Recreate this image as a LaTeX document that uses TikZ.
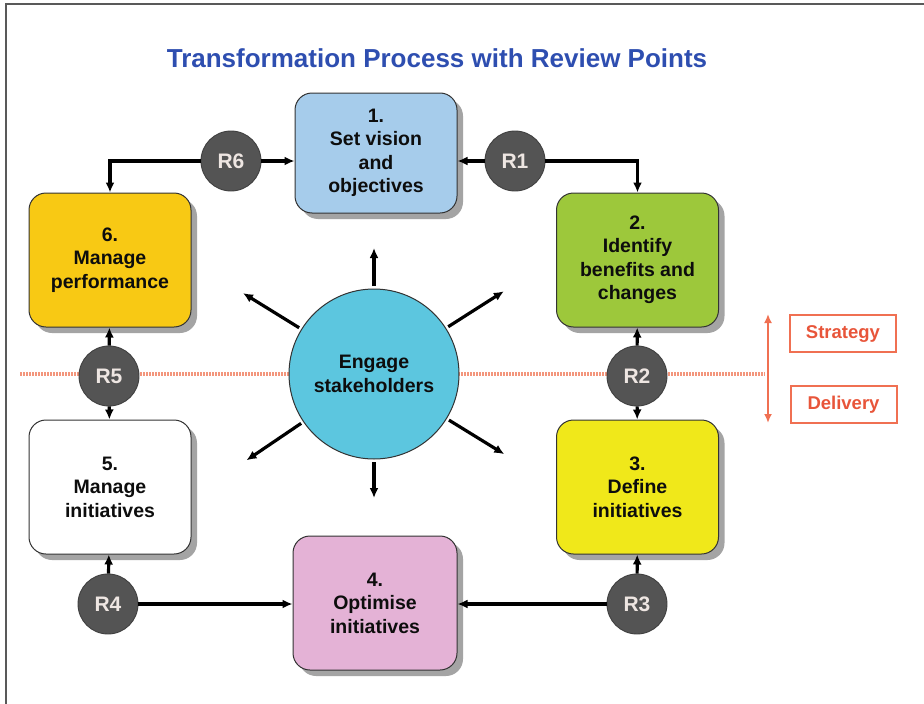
\documentclass[tikz,border=0pt]{standalone}
\usepackage{fontspec}
\setmainfont{Liberation Sans}
\usetikzlibrary{shadows,arrows.meta,calc}

\definecolor{titleblue}{RGB}{46,78,176}
\definecolor{visionblue}{RGB}{166,204,235}
\definecolor{benefitgreen}{RGB}{157,200,59}
\definecolor{defineyellow}{RGB}{240,232,26}
\definecolor{optimisepink}{RGB}{228,178,214}
\definecolor{performgold}{RGB}{248,201,20}
\definecolor{hubblue}{RGB}{92,198,223}
\definecolor{reviewgrey}{RGB}{84,84,84}
\definecolor{reviewtext}{RGB}{238,230,226}
\definecolor{linered}{RGB}{240,112,82}
\definecolor{textred}{RGB}{232,85,58}
\definecolor{dotred}{RGB}{243,150,124}

\begin{document}
\begin{tikzpicture}[x=1pt,y=-1pt]
    \tikzstyle{every node}=[font=\bfseries]
    \tikzstyle{stage}=[draw=black!80, line width=1pt, rounded corners=17pt, minimum width=162pt, minimum height=134pt, align=center, text=black!95, font=\fontsize{19.5}{23.5}\selectfont\bfseries, drop shadow={shadow xshift=6pt, shadow yshift=-6pt, fill=black!55, opacity=.65}]
    \tikzstyle{review}=[circle, fill=reviewgrey, draw=black!75, line width=0.9pt, minimum size=60pt, inner sep=0pt, text=reviewtext, font=\fontsize{21}{21}\selectfont\bfseries]
    \tikzstyle{link}=[line width=3.2pt, -{Latex[length=10pt,width=9pt]}]
    \tikzstyle{tag}=[draw=linered, line width=2pt, text=textred, minimum width=106pt, minimum height=37pt, font=\fontsize{18.5}{18.5}\selectfont\bfseries]

    \useasboundingbox (0,0) rectangle (924,704);
    \draw[black!65, line width=2pt] (924,4) -- (6,4) -- (6,704);

    \node[text=titleblue, font=\fontsize{26}{26}\selectfont\bfseries] (title) at (437,58) {Transformation Process with Review Points};

    % strategy / delivery divide
    \draw[dotred, line width=4pt, dash pattern=on 2pt off 1pt] (20,374) -- (765,374);
    \draw[linered, line width=1.8pt, {Latex[length=9pt,width=8pt]}-{Latex[length=9pt,width=8pt]}] (768,314) -- (768,423);
    \node[tag] (strategy) at (843,333.5) {Strategy};
    \node[tag] (delivery) at (843.5,404.5) {Delivery};

    % process stages
    \node[stage, fill=visionblue, minimum height=120pt] (s1) at (376,153) {1.\\Set vision\\and\\objectives};
    \node[stage, fill=benefitgreen] (s2) at (637.5,260) {2.\\Identify\\benefits and\\changes};
    \node[stage, fill=defineyellow] (s3) at (637.5,487) {3.\\Define\\initiatives};
    \node[stage, fill=optimisepink, minimum width=164pt] (s4) at (375,603) {4.\\Optimise\\initiatives};
    \node[stage, fill=white] (s5) at (110,487) {5.\\Manage\\initiatives};
    \node[stage, fill=performgold] (s6) at (110,260) {6.\\Manage\\performance};

    % review points
    \node[review] (r1) at (515,161) {R1};
    \node[review] (r2) at (637,376) {R2};
    \node[review] (r3) at (637,604) {R3};
    \node[review] (r4) at (108,604) {R4};
    \node[review] (r5) at (109,376) {R5};
    \node[review] (r6) at (231,161) {R6};

    \draw[link] (r1) -- (r1 -| s1.east);
    \draw[link] (r1) -| (s2);
    \draw[link] (r2) -- (s2);
    \draw[link] (r2) -- (s3);
    \draw[link] (r3) -- (s3);
    \draw[link] (r3) -- (r3 -| s4.east);
    \draw[link] (r4) -- (s5);
    \draw[link] (r4) -- (r4 -| s4.west);
    \draw[link] (r5) -- (s6);
    \draw[link] (r5) -- (s5);
    \draw[link] (r6) -- (r6 -| s1.west);
    \draw[link] (r6) -| (s6);

    % stakeholder hub
    \node[circle, fill=hubblue, draw=black!80, line width=1pt, minimum size=170pt, align=center, text=black!95, font=\fontsize{19.5}{24}\selectfont\bfseries] (hub) at (374,374) {Engage\\stakeholders};
    \foreach \a/\l in {270/126, 90/124, 211.7/154, 327.5/154, 145.9/154, 31.6/153}
        \draw[link] ($(hub)+(\a:88)$) -- ($(hub)+(\a:\l)$);
\end{tikzpicture}
\end{document}
